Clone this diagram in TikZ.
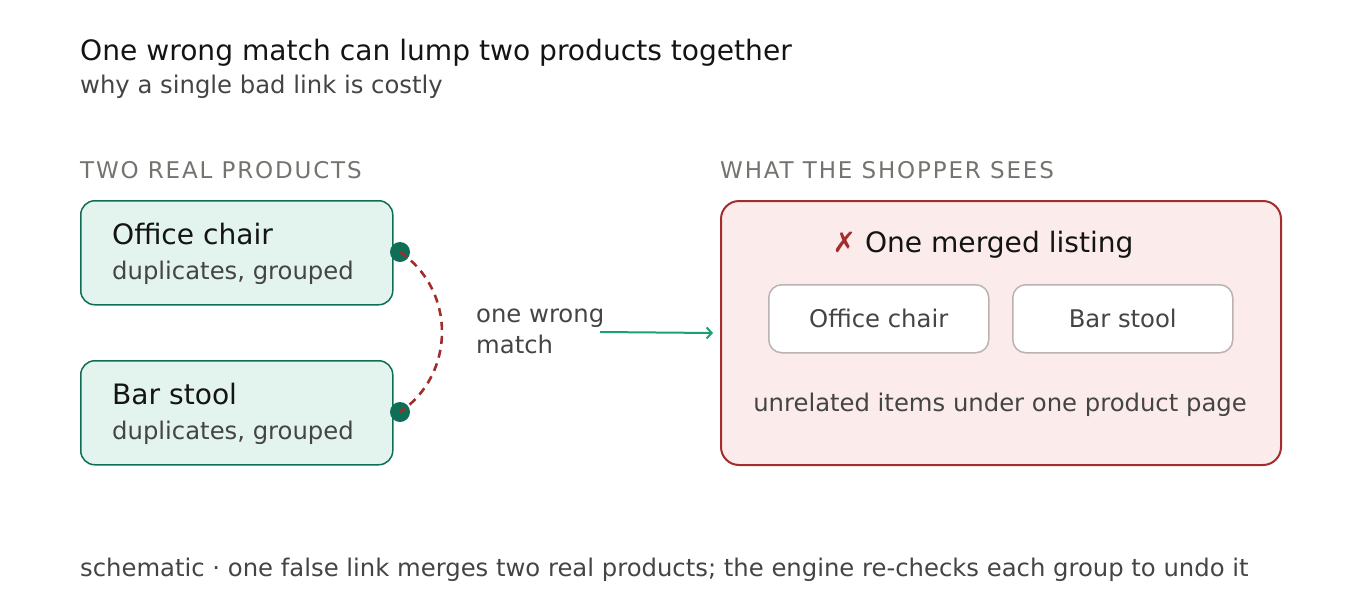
\documentclass[tikz,border=0pt]{standalone}
\usepackage{fontspec}
\setmainfont{DejaVu Sans}
\usetikzlibrary{calc}
\usetikzlibrary{arrows.meta}
\definecolor{ink}{HTML}{141414}
\definecolor{soft}{HTML}{444444}
\definecolor{muted}{HTML}{74736F}
\definecolor{okline}{HTML}{0F6E56}
\definecolor{okfill}{HTML}{E3F4EE}
\definecolor{badline}{HTML}{A32D2D}
\definecolor{badfill}{HTML}{FBECEB}
\definecolor{arrowc}{HTML}{1D9E75}
\definecolor{chipline}{HTML}{BBB3B3}
\newcommand{\fs}[1]{\fontsize{#1}{#1}\selectfont}
\newcommand{\prodbox}[4]{\node[prod] (#1) at ( #2 , #3 ) {};
  \node[txt, text=ink, font=\fs{28.1}] (#1t) at ( 112 , #3+44 ) {#4};
  \node[txt, text=soft, font=\fs{24.3}] (#1s) at ( 112 , #3+79 ) {duplicates, grouped};}
\newcommand{\chip}[3]{\node[chipbox] (#1) at ( #2 , 284 ) {};
  \node[font=\fs{24.3}, text=soft, inner sep=0pt] (#1t) at (#1.center) {#3};}

\begin{document}
\begin{tikzpicture}[x=1pt,y=-1pt,
    txt/.style={anchor=base west, inner sep=0pt},
    caps/.style={anchor=base west, inner sep=0pt, text=muted,
      font=\fs{23}\addfontfeature{LetterSpace=8}},
    prod/.style={draw=okline, fill=okfill, line width=1.5pt, rounded corners=14pt,
      anchor=north west, minimum width=312pt, minimum height=104pt, inner sep=0pt},
    chipbox/.style={draw=chipline, fill=white, line width=1.5pt, rounded corners=13pt,
      anchor=north west, minimum width=220pt, minimum height=68pt, inner sep=0pt},
    dot/.style={circle, fill=okline, minimum size=20pt, inner sep=0pt}]
        \useasboundingbox (0,0) rectangle (1360,600);

        % heading
        \node[txt, text=ink, font=\fs{28.1}] (title) at (80,60) {One wrong match can lump two products together};
        \node[txt, text=soft, font=\fs{24.3}] (subtitle) at (80,93) {why a single bad link is costly};

        % left column
        \node[caps] (lefthead) at (80,178) {TWO REAL PRODUCTS};
        \prodbox{chair}{80}{200}{Office chair}
        \prodbox{stool}{80}{360}{Bar stool}

        \node[dot] (dotA) at (400,252) {};
        \node[dot] (dotB) at (400,412) {};
        \draw[badline, line width=2.6pt, dash pattern=on 8pt off 6pt]
          (dotA.center) .. controls (456,290) and (456,374) .. (dotB.center);

        % middle
        \node[txt, text=soft, font=\fs{24.3}] (wrong1) at (476,322) {one wrong};
        \node[txt, text=soft, font=\fs{24.3}] (wrong2) at (476,353) {match};

        % right column
        \node[caps] (righthead) at (720,178) {WHAT THE SHOPPER SEES};
        \node[draw=badline, fill=badfill, line width=2pt, rounded corners=18pt, anchor=north west,
          minimum width=560pt, minimum height=264pt, inner sep=0pt] (merged) at (720,200) {};
        \node[anchor=base, inner sep=0pt, font=\fs{28.1}, text=ink] (mergedt) at (983,252)
          {\textcolor{badline}{✗} One merged listing};
        \chip{chipA}{768}{Office chair}
        \chip{chipB}{1012}{Bar stool}
        \node[anchor=base, inner sep=0pt, font=\fs{24.3}, text=soft] (mergedn) at (1000,411)
          {unrelated items under one product page};

        \coordinate (a0) at (600,332);
        \draw[arrowc, line width=2pt, -{Straight Barb[length=5pt,width=11pt]}]
          (a0) -- ([xshift=-7pt]merged.west);

        % footer
        \node[txt, text=soft, font=\fs{24.3}] (footer) at (80,576)
          {schematic · one false link merges two real products; the engine re-checks each group to undo it};
    \end{tikzpicture}
\end{document}
